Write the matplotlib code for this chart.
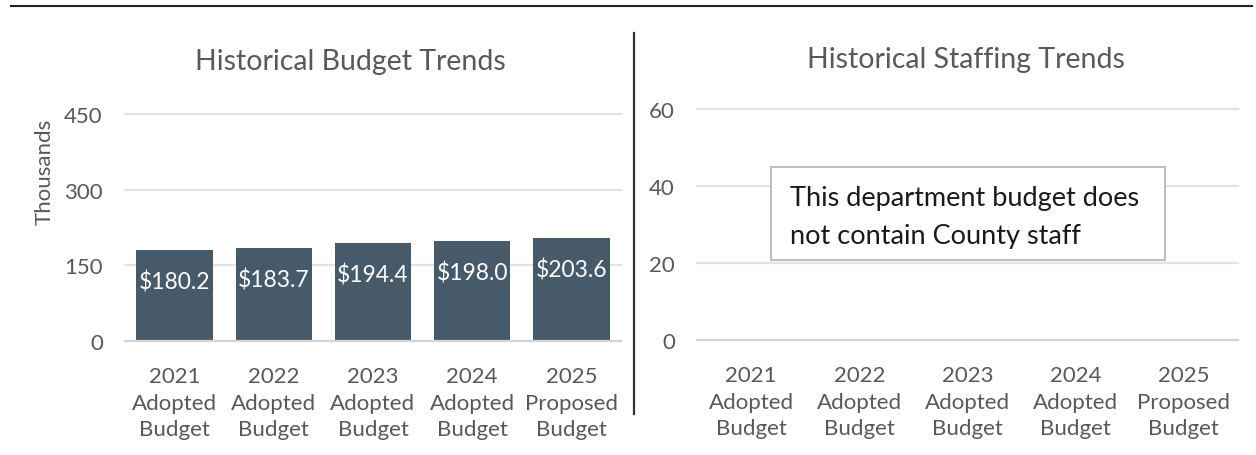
import matplotlib
matplotlib.use("Agg")
import matplotlib.pyplot as plt
from matplotlib.lines import Line2D
from matplotlib.patches import Rectangle

plt.rcParams['font.family'] = ['Lato', 'DejaVu Sans']

# data
categories = ["2021\nAdopted\nBudget", "2022\nAdopted\nBudget", "2023\nAdopted\nBudget",
              "2024\nAdopted\nBudget", "2025\nProposed\nBudget"]
budget = [180.2, 183.7, 194.4, 198.0, 203.6]   # thousands
staffing = [0, 0, 0, 0, 0]                      # no county staff
budget_ticks = [0, 150, 300, 450]
staff_ticks = [0, 20, 40, 60]

BAR = "#475a6a"
GRID = "#e3e3e3"
TXT = "#595959"

W, H = 1256, 456
fig = plt.figure(figsize=(W / 100, H / 100), dpi=100)


def px_axes(x0, x1, y_top, y_bot):
    return fig.add_axes([x0 / W, 1 - y_bot / H, (x1 - x0) / W, (y_bot - y_top) / H])


def style(ax, ticks):
    ax.set_xlim(-0.5, len(categories) - 0.5)
    ax.set_ylim(ticks[0], ticks[-1])
    ax.set_yticks(ticks)
    ax.set_xticks(range(len(categories)))
    ax.set_xticklabels(categories, linespacing=1.42)
    for s in ax.spines.values():
        s.set_visible(False)
    ax.tick_params(length=0, colors=TXT, labelsize=16)
    ax.tick_params(axis='y', pad=16)
    ax.tick_params(axis='x', pad=18)
    for t in ticks[1:]:
        ax.axhline(t, color=GRID, lw=1.6, zorder=0, clip_on=False)
    ax.axhline(0, color="#d4d4d4", lw=1.6, zorder=3, clip_on=False)


# left chart: budget
ax1 = px_axes(125, 621, 115, 342)
style(ax1, budget_ticks)
bars = ax1.bar(range(len(budget)), budget, width=0.77, color=BAR, zorder=2)
for b, v in zip(bars, budget):
    ax1.annotate(f"${v:.1f}", (b.get_x() + b.get_width() / 2, v),
                 xytext=(0, -14.5), textcoords="offset points",
                 ha="center", va="top", color="white", fontsize=16.5)
ax1.set_ylabel("Thousands", color=TXT, fontsize=16)
ax1.yaxis.set_label_coords(-0.141, 0.75)
fig.text(350 / W, 1 - 62 / H, "Historical Budget Trends", color=TXT, fontsize=20.5,
         ha="center", va="center")

# right chart: staffing
ax2 = px_axes(697, 1238, 110, 341)
style(ax2, staff_ticks)
ax2.bar(range(len(staffing)), staffing, width=0.77, color=BAR, zorder=2)
fig.text(966 / W, 1 - 60 / H, "Historical Staffing Trends", color=TXT, fontsize=20.5,
         ha="center", va="center")
ax2.add_patch(Rectangle((0.137, 0.346), 0.728, 0.403, transform=ax2.transAxes,
                        fc="white", ec="#bfbfbf", lw=1.5, zorder=4))
ax2.text(0.172, 0.535, "This department budget does\nnot contain County staff",
         transform=ax2.transAxes, ha="left", va="center", fontsize=19.5,
         color="#1a1a1a", linespacing=1.68, zorder=5)

# frame lines
fig.add_artist(Line2D([11 / W, 1252 / W], [1 - 7 / H, 1 - 7 / H], color="#222222", lw=1.5))
fig.add_artist(Line2D([634 / W, 634 / W], [1 - 34 / H, 1 - 415 / H], color="#333333", lw=1.6))

fig.savefig("out.png", dpi=100)
